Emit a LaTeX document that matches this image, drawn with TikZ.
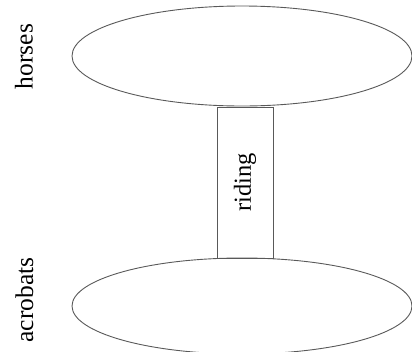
\documentclass[tikz,border=0pt]{standalone}
\usepackage{fontspec}
\setmainfont{Liberation Serif}
\usetikzlibrary{shapes.geometric}
\tikzset{
  ln/.style={draw=black!65, line width=0.9bp},
  entity/.style={ln, ellipse, minimum width=340bp, minimum height=100bp, inner sep=0pt},
  relbox/.style={ln, rectangle, rotate=90, minimum width=151bp, minimum height=56bp, inner sep=0pt, font=\fontsize{24.5bp}{28bp}\selectfont},
  lbl/.style={rotate=90, anchor=base, inner sep=0pt, font=\fontsize{25.5bp}{30bp}\selectfont}
}
\begin{document}
\begin{tikzpicture}[x=1bp,y=-1bp]
\useasboundingbox (0,0) rectangle (412,352);
\node[entity] (horses) at (242,56) {};
\node[entity, minimum height=96bp] (acrobats) at (242,306) {};
\node[relbox] (riding) at (245,182.5) {riding};
\node[lbl] (lh) at (32.5,56.5) {horses};
\node[lbl] (la) at (33,300) {acrobats};
\end{tikzpicture}
\end{document}
